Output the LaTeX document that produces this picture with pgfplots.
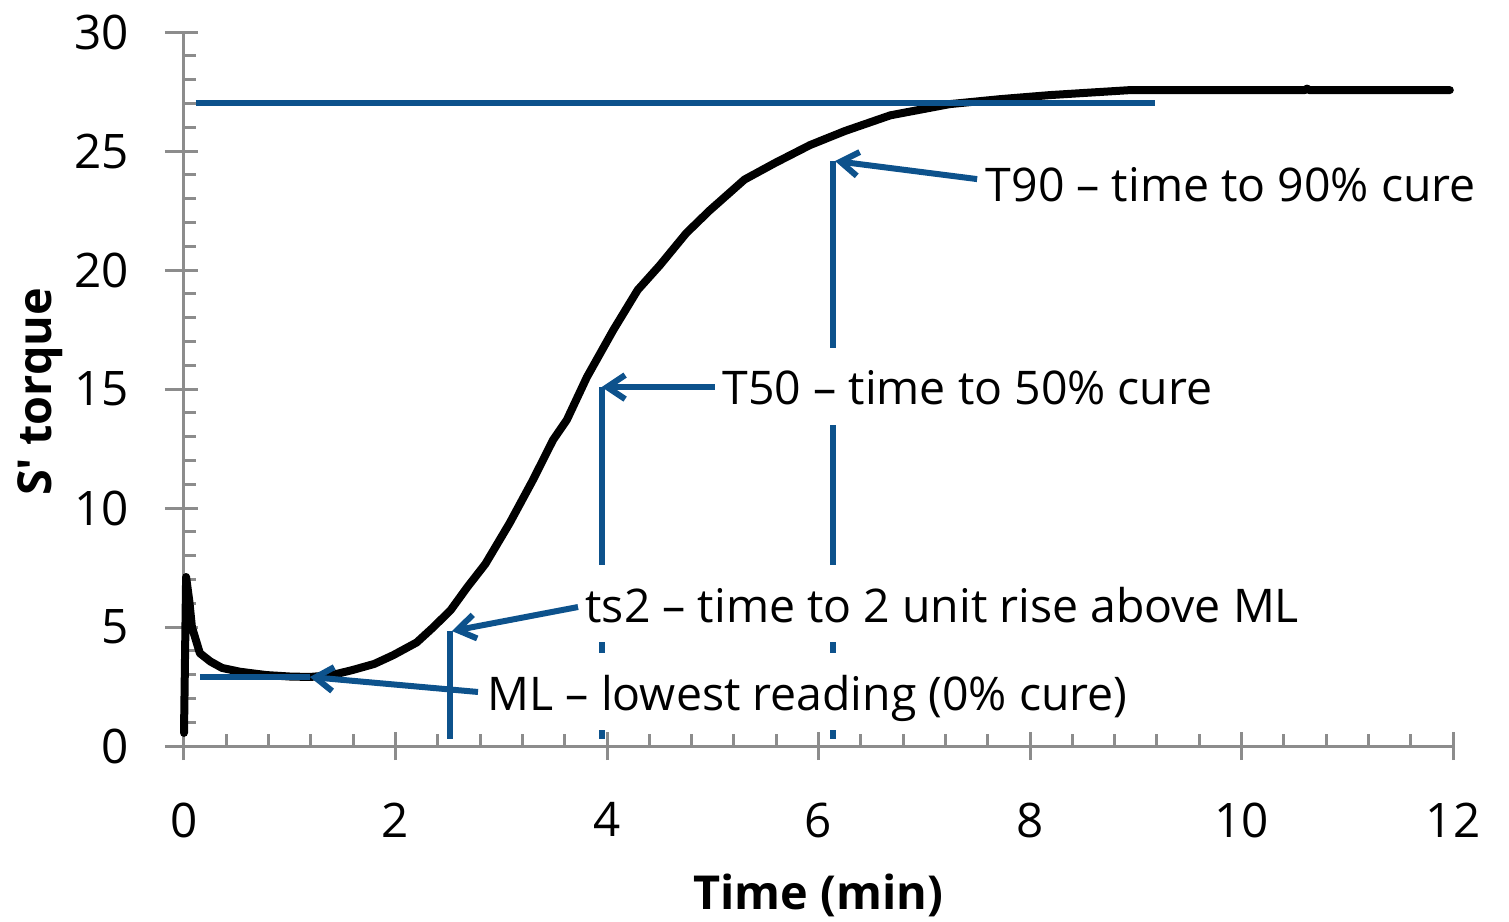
\documentclass[border=0pt]{standalone}
\usepackage{fontspec}
\setmainfont{Open Sans}
\usepackage{pgfplots}
\pgfplotsset{compat=1.18}
\usetikzlibrary{arrows.meta}
\definecolor{axisgrey}{HTML}{8C8C8C}
\definecolor{annblue}{HTML}{0D528C}
\begin{document}
\begin{tikzpicture}[font=\fontsize{11.6}{14}\selectfont]
\useasboundingbox (-46pt,-43.75pt) rectangle (331.25pt,186.5pt);
\begin{axis}[
  scale only axis,
  width=317.25pt, height=178.5pt,
  xmin=0, xmax=12, ymin=0, ymax=30,
  axis lines=left,
  axis line style={axisgrey, line width=0.75pt, -},
  xtick={0,2,...,12}, ytick={0,5,...,30},
  minor x tick num=4, minor y tick num=4,
  tick align=inside,
  major tick length=3.5pt, minor tick length=3pt,
  tick style={axisgrey, line width=0.75pt},
  extra x ticks={0,2,...,12}, extra x tick labels={},
  extra y ticks={0,5,...,30}, extra y tick labels={},
  extra x tick style={tick align=outside, major tick length=3.5pt},
  extra y tick style={tick align=outside, major tick length=4.75pt},
  /pgf/number format/assume math mode=true,
  yticklabel style={anchor=east, inner xsep=0pt, xshift=-13.5pt, font=\fontsize{11.9}{14}\selectfont},
  xticklabel style={anchor=north, inner ysep=0pt, yshift=-14pt, font=\fontsize{11.9}{14}\selectfont},
  xlabel={\bfseries Time (min)},
  ylabel={\bfseries S\textquotesingle\ torque},
  xlabel style={at={(axis description cs:0.5,-0.209)}, anchor=center, font=\fontsize{11.7}{14}\selectfont},
  ylabel style={at={(axis description cs:-0.1135,0.496)}, anchor=center, font=\fontsize{11.7}{14}\selectfont},
  clip=false,
]
% cure curve
\addplot[black, line width=2pt, line join=round, line cap=round] coordinates {
(0,0.55) (0.02,7.1) (0.05,6.1) (0.075,5.0) (0.15,3.9) (0.25,3.55) (0.36,3.28)
(0.53,3.12) (0.78,2.98) (1.0,2.92) (1.19,2.9) (1.4,2.98) (1.6,3.2)
(1.8,3.45) (1.98,3.82) (2.2,4.35) (2.35,4.96) (2.52,5.7) (2.68,6.68)
(2.85,7.65) (3.08,9.37) (3.3,11.18) (3.49,12.86) (3.62,13.7) (3.81,15.5)
(4.06,17.48) (4.29,19.16) (4.5,20.2) (4.75,21.55) (4.97,22.5) (5.3,23.8)
(5.59,24.5) (5.92,25.25) (6.25,25.84) (6.68,26.5) (7.24,26.97) (7.72,27.18)
(8.19,27.35) (8.95,27.56) (10.6,27.56) (10.62,27.62) (10.64,27.56) (11.97,27.56)
};
% reference lines
\addplot[annblue, line width=1.5pt] coordinates {(0.11,27) (9.18,27)};
\addplot[annblue, line width=1.5pt] coordinates {(0.15,2.88) (1.19,2.88)};
\addplot[annblue, line width=1.5pt] coordinates {(2.52,0.3) (2.52,4.83)};
\addplot[annblue, line width=1.5pt] coordinates {(3.95,0.3) (3.95,15.08)};
\addplot[annblue, line width=1.5pt] coordinates {(6.14,0.3) (6.14,24.6)};
% labels
\begin{scope}[every node/.style={fill=white, anchor=base west, inner xsep=2pt,
  inner ysep=0pt, text height=14.25pt, text depth=5pt}]
\node at (axis cs:7.5,22.86) {T90 – time to 90\% cure};
\node at (axis cs:5.01,14.33) {T50 – time to 50\% cure};
\node at (axis cs:3.714,5.21) {ts2 – time to 2 unit rise above ML};
\node at (axis cs:2.79,1.51) {ML – lowest reading (0\% cure)};
\end{scope}
% arrows
\begin{scope}[annblue, line width=1.5pt, -{Straight Barb[length=4.5pt,width=6pt]}]
\draw (axis cs:7.5,23.82) -- (axis cs:6.156,24.58);
\draw (axis cs:5.02,15.08) -- (axis cs:3.95,15.08);
\draw (axis cs:3.726,5.84) -- (axis cs:2.534,4.83);
\draw (axis cs:2.78,2.27) -- (axis cs:1.19,2.9);
\end{scope}
\end{axis}
\end{tikzpicture}
\end{document}
